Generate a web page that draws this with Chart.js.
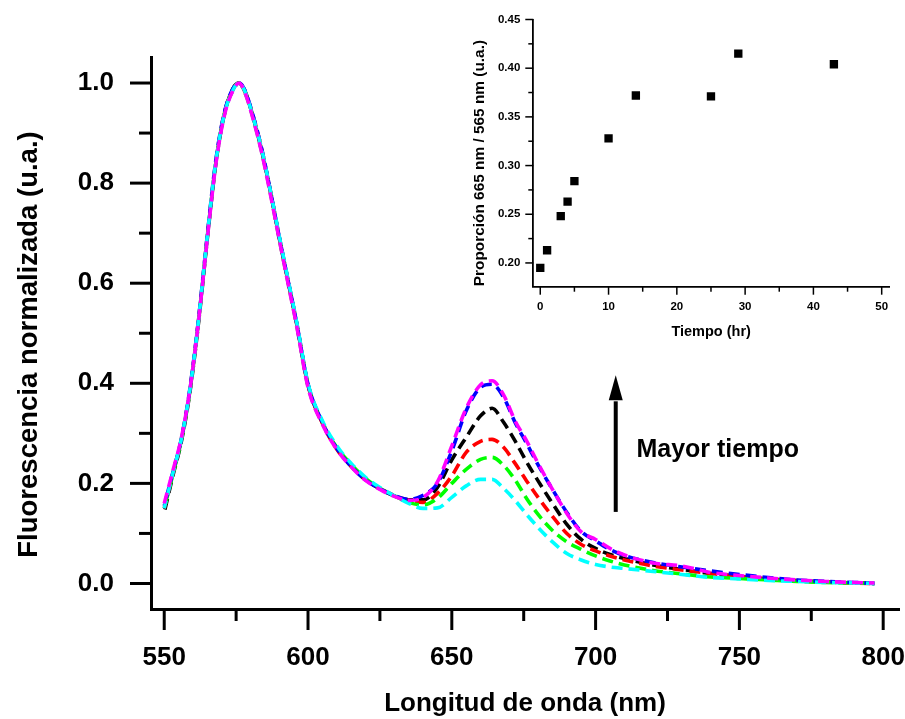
<!DOCTYPE html>
<html><head><meta charset="utf-8">
<script src="https://cdn.jsdelivr.net/npm/chart.js@4/dist/chart.umd.min.js"></script>
<style>
html,body{margin:0;padding:0;background:#fff;}
#wrap{position:relative;width:905px;height:719px;overflow:hidden;}
#main{position:absolute;left:0;top:0;}
#inset{position:absolute;left:460px;top:0;}
</style></head><body>
<div id="wrap">
<canvas id="main" width="905" height="719"></canvas>
<canvas id="inset" width="440" height="350"></canvas>
</div>
<script>
// ---------- Main spectra data ----------
const wavelengths = [550,553,556,559,562,565,568,571,574,576,578,581,584,587,590,593,596,600,605,610,615,620,625,630,635,640,645,650,655,660,664,668,672,676,680,685,690,695,700,705,710,720,730,740,750,760,770,780,790,797];

const seriesBlack   = [0.142,0.215,0.285,0.385,0.525,0.690,0.842,0.940,0.990,1.000,0.985,0.930,0.862,0.782,0.692,0.607,0.522,0.398,0.322,0.270,0.234,0.207,0.189,0.175,0.167,
                       0.167,0.192,0.247,0.292,0.335,0.350,0.322,0.285,0.243,0.205,0.160,0.118,0.088,0.070,0.058,0.050,0.037,0.028,0.020,0.014,0.009,0.006,0.003,0.001,0.000];
const seriesRed     = [0.150,0.220,0.290,0.390,0.530,0.695,0.845,0.942,0.988,1.000,0.983,0.932,0.865,0.780,0.690,0.605,0.520,0.396,0.320,0.268,0.235,0.208,0.190,0.176,0.166,
                       0.162,0.180,0.215,0.262,0.284,0.288,0.272,0.240,0.205,0.172,0.134,0.100,0.078,0.065,0.055,0.047,0.035,0.027,0.020,0.014,0.009,0.005,0.003,0.001,0.000];
const seriesGreen   = [0.150,0.218,0.288,0.388,0.528,0.693,0.843,0.940,0.987,1.000,0.982,0.928,0.860,0.778,0.688,0.603,0.518,0.394,0.320,0.272,0.238,0.210,0.190,0.175,0.162,
                       0.157,0.170,0.200,0.228,0.248,0.252,0.236,0.207,0.170,0.138,0.106,0.083,0.068,0.055,0.045,0.037,0.026,0.019,0.013,0.010,0.007,0.004,0.002,0.001,0.000];
const seriesBlue    = [0.155,0.222,0.290,0.392,0.532,0.697,0.848,0.943,0.990,1.000,0.986,0.933,0.866,0.782,0.692,0.607,0.522,0.398,0.322,0.270,0.234,0.207,0.189,0.176,0.168,
                       0.176,0.200,0.265,0.345,0.392,0.398,0.372,0.322,0.280,0.237,0.188,0.142,0.104,0.085,0.068,0.056,0.042,0.033,0.025,0.018,0.012,0.007,0.004,0.002,0.000];
const seriesCyan    = [0.150,0.220,0.290,0.390,0.530,0.695,0.845,0.940,0.987,1.000,0.984,0.930,0.865,0.782,0.694,0.609,0.524,0.400,0.325,0.275,0.240,0.212,0.192,0.175,0.160,
                       0.150,0.151,0.172,0.195,0.208,0.208,0.190,0.166,0.138,0.112,0.083,0.060,0.047,0.038,0.033,0.030,0.024,0.018,0.012,0.009,0.006,0.004,0.002,0.001,0.000];
const seriesMagenta = [0.160,0.225,0.292,0.390,0.528,0.690,0.840,0.937,0.986,1.000,0.982,0.926,0.858,0.775,0.687,0.601,0.516,0.392,0.318,0.268,0.233,0.206,0.188,0.174,0.166,
                       0.172,0.203,0.275,0.350,0.397,0.405,0.377,0.325,0.285,0.240,0.188,0.140,0.103,0.088,0.070,0.057,0.041,0.035,0.022,0.016,0.011,0.007,0.004,0.002,0.001];

const mainXTicks = [550,600,650,700,750,800];
const mainXMinorTicks = [575,625,675,725,775];
const mainYTicks = [0.0,0.2,0.4,0.6,0.8,1.0];
const mainYMinorTicks = [0.1,0.3,0.5,0.7,0.9];

// ---------- Inset data ----------
const timeHours = [0,1,3,4,5,10,14,25,29,43];
const ratio665to565 = [0.195,0.213,0.248,0.263,0.284,0.328,0.372,0.371,0.415,0.404];
const insetXTicks = [0,10,20,30,40,50];
const insetXMinorTicks = [5,15,25,35,45];
const insetYTicks = [0.20,0.25,0.30,0.35,0.40,0.45];
const insetYMinorTicks = [0.225,0.275,0.325,0.375,0.425];

// annotation (arrow + text) in data units
const arrowAnno = {x: 707, yFrom: 0.143, yBase: 0.366, yTip: 0.416, text: 'Mayor tiempo', textX: 714.2, textY: 0.2526};

const FONT = "'Liberation Sans', Arial, Helvetica, sans-serif";

const tickMarks = {
  id: 'tickMarks',
  afterDraw(chart, args, o) {
    const ctx = chart.ctx, a = chart.chartArea, xs = chart.scales.x, ys = chart.scales.y;
    ctx.save();
    ctx.strokeStyle = '#000';
    ctx.lineWidth = o.width;
    ctx.lineCap = 'butt';
    const vline = (v, len) => { const p = xs.getPixelForValue(v); ctx.beginPath(); ctx.moveTo(p, a.bottom); ctx.lineTo(p, a.bottom + len); ctx.stroke(); };
    const hline = (v, len) => { const p = ys.getPixelForValue(v); ctx.beginPath(); ctx.moveTo(a.left, p); ctx.lineTo(a.left - len, p); ctx.stroke(); };
    o.xMajor.forEach(v => vline(v, o.majorLen));
    o.xMinor.forEach(v => vline(v, o.minorLen));
    o.yMajor.forEach(v => hline(v, o.majorLen));
    o.yMinor.forEach(v => hline(v, o.minorLen));
    // rotated y-axis title
    if (o.yTitle) {
      const cy = (a.top + a.bottom) / 2 + o.yTitle.dy;
      ctx.translate(o.yTitle.x, cy);
      ctx.rotate(-Math.PI / 2);
      ctx.fillStyle = '#000';
      ctx.font = 'bold ' + o.yTitle.size + 'px ' + FONT;
      ctx.textAlign = 'center';
      ctx.textBaseline = 'middle';
      ctx.fillText(o.yTitle.text, 0, 0);
    }
    ctx.restore();
  }
};

const arrowPlugin = {
  id: 'arrowPlugin',
  afterDraw(chart) {
    const ctx = chart.ctx, xs = chart.scales.x, ys = chart.scales.y;
    const px = xs.getPixelForValue(arrowAnno.x);
    const y0 = ys.getPixelForValue(arrowAnno.yFrom);
    const yb = ys.getPixelForValue(arrowAnno.yBase);
    const yt = ys.getPixelForValue(arrowAnno.yTip);
    ctx.save();
    ctx.strokeStyle = '#000'; ctx.fillStyle = '#000';
    ctx.lineWidth = 4;
    ctx.beginPath(); ctx.moveTo(px, y0); ctx.lineTo(px, yb + 1); ctx.stroke();
    ctx.beginPath(); ctx.moveTo(px, yt); ctx.lineTo(px - 7, yb); ctx.lineTo(px + 7, yb); ctx.closePath(); ctx.fill();
    ctx.font = 'bold 25px ' + FONT;
    ctx.textAlign = 'left'; ctx.textBaseline = 'alphabetic';
    ctx.fillText(arrowAnno.text, xs.getPixelForValue(arrowAnno.textX), ys.getPixelForValue(arrowAnno.textY));
    ctx.restore();
  }
};

function mk(label, arr, color, dashOffset) {
  return {
    label: label,
    data: wavelengths.map((w, i) => ({x: w, y: arr[i]})),
    borderColor: color,
    borderWidth: 3.6,
    borderDash: [11, 6],
    borderDashOffset: dashOffset,
    pointRadius: 0,
    fill: false,
    cubicInterpolationMode: 'monotone'
  };
}

const noPadX = h => s => { s.height = h; s.paddingLeft = 0; s.paddingRight = 0; s.paddingTop = 0; s.paddingBottom = 0; };
const noPadY = w => s => { s.width = w; s.paddingLeft = 0; s.paddingRight = 0; s.paddingTop = 0; s.paddingBottom = 0; };

new Chart(document.getElementById('main'), {
  type: 'line',
  data: {
    datasets: [
      mk('magenta', seriesMagenta, '#FF00FF', 0),
      mk('cyan', seriesCyan, '#00FFFF', 3),
      mk('blue', seriesBlue, '#0000FF', 9),
      mk('green', seriesGreen, '#00FF00', 12),
      mk('red', seriesRed, '#FF0000', 5),
      mk('black', seriesBlack, '#000000', 14)
    ]
  },
  options: {
    responsive: false, animation: false, devicePixelRatio: 1,
    layout: {autoPadding: false, padding: {top: 57, right: 6, left: 0, bottom: 0}},
    plugins: {
      legend: {display: false}, tooltip: {enabled: false},
      tickMarks: {width: 3, majorLen: 21, minorLen: 12, xMajor: mainXTicks, xMinor: mainXMinorTicks, yMajor: mainYTicks, yMinor: mainYMinorTicks,
                  yTitle: {text: 'Fluorescencia normalizada (u.a.)', size: 27.5, x: 29, dy: 11.5}}
    },
    scales: {
      x: {
        type: 'linear', min: 545.4, max: 805.5,
        afterBuildTicks: s => { s.ticks = mainXTicks.map(v => ({value: v})); },
        afterFit: noPadX(110),
        grid: {display: false, drawTicks: false},
        border: {display: true, width: 3, color: '#000'},
        ticks: {color: '#000', font: {family: FONT, size: 26, weight: 'bold'}, padding: 33, maxRotation: 0, callback: v => String(v)},
        title: {display: true, text: 'Longitud de onda (nm)', color: '#000', font: {family: FONT, size: 26, weight: 'bold'}, padding: {top: 0, bottom: 0}}
      },
      y: {
        type: 'linear', min: -0.051, max: 1.052,
        afterBuildTicks: s => { s.ticks = mainYTicks.map(v => ({value: v})); },
        afterFit: noPadY(151),
        grid: {display: false, drawTicks: false},
        border: {display: true, width: 3, color: '#000'},
        ticks: {color: '#000', font: {family: FONT, size: 26, weight: 'bold'}, padding: 37, callback: v => Number(v).toFixed(1)},
        title: {display: false}
      }
    }
  },
  plugins: [tickMarks, arrowPlugin]
});

new Chart(document.getElementById('inset'), {
  type: 'scatter',
  data: {
    datasets: [{
      label: 'ratio',
      data: timeHours.map((t, i) => ({x: t, y: ratio665to565[i]})),
      pointStyle: 'rect',
      pointRadius: 5.9,
      pointBorderWidth: 0,
      backgroundColor: '#000',
      borderColor: '#000'
    }]
  },
  options: {
    responsive: false, animation: false, devicePixelRatio: 1,
    layout: {autoPadding: false, padding: {top: 19.5, right: 11, left: 0, bottom: 0}},
    plugins: {
      legend: {display: false}, tooltip: {enabled: false},
      tickMarks: {width: 1.5, majorLen: 8, minorLen: 5, xMajor: insetXTicks, xMinor: insetXMinorTicks, yMajor: insetYTicks, yMinor: insetYMinorTicks,
                  yTitle: {text: 'Proporción 665 nm / 565 nm (u.a.)', size: 15.4, x: 20, dy: 10}}
    },
    scales: {
      x: {
        type: 'linear', min: -1.02, max: 51.07,
        afterBuildTicks: s => { s.ticks = insetXTicks.map(v => ({value: v})); },
        afterFit: noPadX(63.3),
        grid: {display: false, drawTicks: false},
        border: {display: true, width: 1.8, color: '#000'},
        ticks: {color: '#000', font: {family: FONT, size: 11.5, weight: 'bold'}, padding: 13, maxRotation: 0, callback: v => String(v)},
        title: {display: true, text: 'Tiempo (hr)', color: '#000', font: {family: FONT, size: 14.5, weight: 'bold'}, padding: {top: 0, bottom: 9.6}}
      },
      y: {
        type: 'linear', min: 0.1756, max: 0.45,
        afterBuildTicks: s => { s.ticks = insetYTicks.map(v => ({value: v})); },
        afterFit: noPadY(73.3),
        grid: {display: false, drawTicks: false},
        border: {display: true, width: 1.8, color: '#000'},
        ticks: {color: '#000', font: {family: FONT, size: 11.5, weight: 'bold'}, padding: 13, callback: v => Number(v).toFixed(2)},
        title: {display: false}
      }
    }
  },
  plugins: [tickMarks]
});
</script>
</body></html>
